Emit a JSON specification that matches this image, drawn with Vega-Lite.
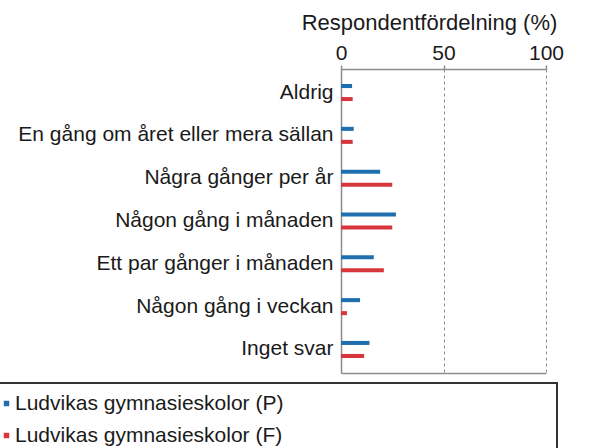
{
  "$schema": "https://vega.github.io/schema/vega-lite/v6.json",
  "width": 205,
  "height": 304,
  "autosize": {"type": "none"},
  "padding": {"left": 341, "top": 69, "right": 44, "bottom": 75},
  "background": "white",
  "config": {"view": {"stroke": null}, "font": "Liberation Sans", "text": {"font": "Liberation Sans"}},
  "data": {
    "values": [
      {"kategori": "Aldrig", "grupp": "Ludvikas gymnasieskolor (P)", "andel": 5.4},
      {"kategori": "Aldrig", "grupp": "Ludvikas gymnasieskolor (F)", "andel": 5.7},
      {"kategori": "En gång om året eller mera sällan", "grupp": "Ludvikas gymnasieskolor (P)", "andel": 6.2},
      {"kategori": "En gång om året eller mera sällan", "grupp": "Ludvikas gymnasieskolor (F)", "andel": 5.7},
      {"kategori": "Några gånger per år", "grupp": "Ludvikas gymnasieskolor (P)", "andel": 19.1},
      {"kategori": "Några gånger per år", "grupp": "Ludvikas gymnasieskolor (F)", "andel": 25.0},
      {"kategori": "Någon gång i månaden", "grupp": "Ludvikas gymnasieskolor (P)", "andel": 26.8},
      {"kategori": "Någon gång i månaden", "grupp": "Ludvikas gymnasieskolor (F)", "andel": 25.0},
      {"kategori": "Ett par gånger i månaden", "grupp": "Ludvikas gymnasieskolor (P)", "andel": 16.0},
      {"kategori": "Ett par gånger i månaden", "grupp": "Ludvikas gymnasieskolor (F)", "andel": 20.9},
      {"kategori": "Någon gång i veckan", "grupp": "Ludvikas gymnasieskolor (P)", "andel": 9.3},
      {"kategori": "Någon gång i veckan", "grupp": "Ludvikas gymnasieskolor (F)", "andel": 2.9},
      {"kategori": "Inget svar", "grupp": "Ludvikas gymnasieskolor (P)", "andel": 13.9},
      {"kategori": "Inget svar", "grupp": "Ludvikas gymnasieskolor (F)", "andel": 11.3}
    ]
  },
  "encoding": {
    "y": {
      "field": "kategori",
      "type": "nominal",
      "sort": null,
      "scale": {"paddingInner": 0, "paddingOuter": 0.05},
      "axis": {
        "title": null,
        "ticks": false,
        "labelPadding": 8,
        "labelFontSize": 21,
        "labelColor": "#1a1a1a",
        "labelLimit": 400,
        "domainColor": "#8c8c8c",
        "domainWidth": 1.5
      }
    }
  },
  "layer": [
    {
      "mark": {"type": "bar"},
      "encoding": {
        "x": {
          "field": "andel",
          "type": "quantitative",
          "scale": {"domain": [0, 100], "nice": false},
          "axis": {
            "orient": "top",
            "values": [0, 50, 100],
            "grid": true,
            "gridDash": [3, 3],
            "gridColor": "#8c8c8c",
            "gridWidth": 1,
            "domainColor": "#8c8c8c",
            "domainWidth": 1.5,
            "tickColor": "#8c8c8c",
            "tickWidth": 1.5,
            "tickSize": 4,
            "labelFontSize": 21,
            "labelColor": "#1a1a1a",
            "labelPadding": 2,
            "labelFlush": false,
            "title": "Respondentfördelning (%)",
            "titleFontSize": 22,
            "titleFontWeight": "normal",
            "titleColor": "#1a1a1a",
            "titleX": 88,
            "titleY": -40,
            "titleAlign": "center",
            "titleBaseline": "alphabetic"
          }
        },
        "yOffset": {
          "field": "grupp",
          "type": "nominal",
          "sort": ["Ludvikas gymnasieskolor (P)", "Ludvikas gymnasieskolor (F)"],
          "scale": {"paddingInner": 0.69, "paddingOuter": 0.99}
        },
        "color": {
          "field": "grupp",
          "type": "nominal",
          "sort": ["Ludvikas gymnasieskolor (P)", "Ludvikas gymnasieskolor (F)"],
          "scale": {
            "domain": ["Ludvikas gymnasieskolor (P)", "Ludvikas gymnasieskolor (F)"],
            "range": ["#1f6fae", "#d7373c"]
          },
          "legend": {
            "orient": "none",
            "legendX": -355,
            "legendY": 314,
            "title": "\u00a0",
            "titleOrient": "right",
            "titlePadding": 264,
            "titleFontSize": 21,
            "padding": 10,
            "strokeColor": "#333333",
            "symbolType": "square",
            "symbolSize": 30,
            "symbolStrokeWidth": 0,
            "labelOffset": -2,
            "labelFontSize": 21,
            "labelColor": "#1a1a1a",
            "labelLimit": 400,
            "rowPadding": 10,
            "encode": {"legend": {"update": {"strokeWidth": {"value": 2}}}}
          }
        }
      }
    },
    {
      "mark": {"type": "bar", "opacity": 0},
      "encoding": {
        "x": {
          "field": "andel",
          "type": "quantitative",
          "axis": {
            "orient": "bottom",
            "labels": false,
            "ticks": false,
            "grid": false,
            "title": null,
            "domainColor": "#8c8c8c",
            "domainWidth": 1.5
          }
        }
      }
    }
  ],
  "resolve": {"axis": {"x": "independent"}}
}
